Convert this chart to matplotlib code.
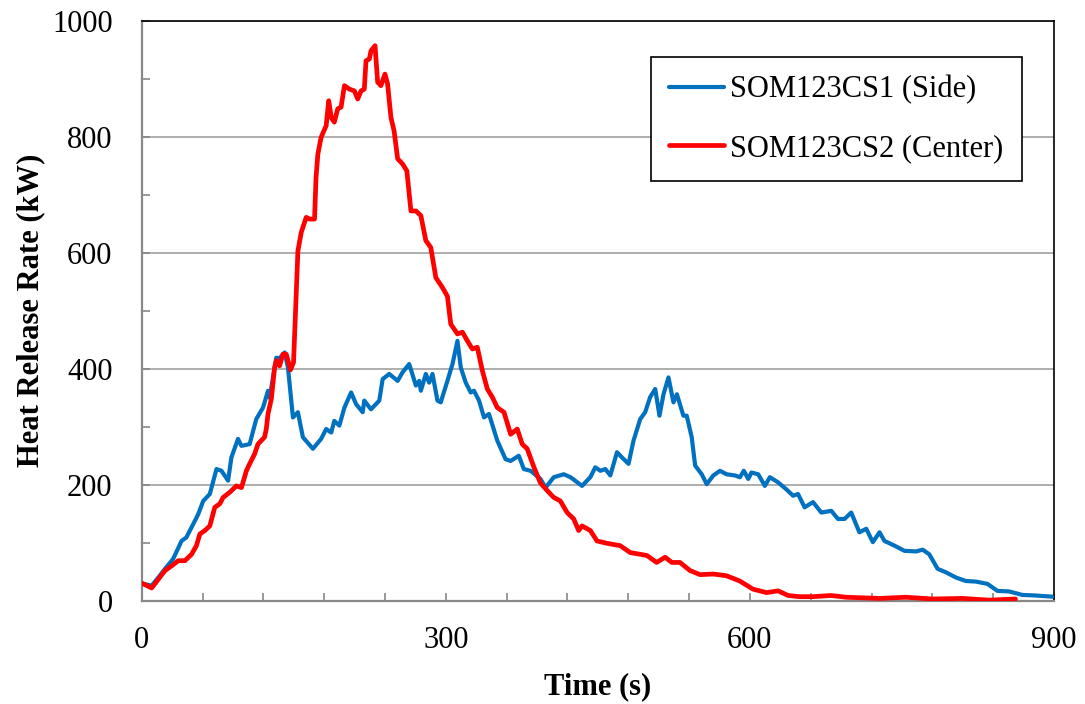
import numpy as np
import matplotlib
matplotlib.use("Agg")
import matplotlib.pyplot as plt
from matplotlib.ticker import MultipleLocator

# Side burner test (blue)
side_time = [0, 1.7, 9.8, 16.4, 23, 31, 39.3, 44, 50.8, 55.7, 60.7, 67.2, 73.8, 78.7, 85.2,
             88.5, 95, 98.4, 106.5, 113, 119.7, 124.6, 126.2, 132.8, 136, 141, 144.3, 149.2,
             154.1, 159, 168.9, 177, 182, 187, 190, 195, 200, 206.6, 211.5, 218, 219.6, 226.2,
             234.4, 237.7, 244.2, 252.5, 257.4, 263.9, 270.5, 273.8, 275.4, 280.3, 283.6, 286.9,
             291.8, 295, 301.6, 306.6, 311.5, 314.8, 319.7, 324.6, 327.8, 332.8, 337.7, 342.6,
             350.8, 359, 364, 372, 377, 383.6, 393.4, 398.4, 406.6, 416.4, 423, 434.4, 442.6,
             447.5, 452.5, 457.4, 462.3, 468.9, 473.8, 480.3, 485.2, 491.8, 496.7, 501.6, 506.6,
             510.8, 514.8, 519.7, 524.6, 528, 534.4, 537.7, 542.6, 546, 552.5, 557.4, 564, 570.5,
             577, 585.2, 590.2, 594, 598.4, 601.6, 608.2, 614.8, 619.7, 627.9, 636, 642.6, 647.5,
             654, 662.3, 670.5, 680.3, 686.9, 693.4, 700, 708, 714.8, 721.3, 727.9, 732.8, 742.6,
             752.5, 764, 770.5, 777, 785.2, 793.4, 803.3, 813, 823, 834.4, 844.2, 855.7, 868.8,
             882, 898.4]
side_hrr = [30, 29, 26, 40, 55, 72, 103, 109, 132, 149, 172, 184, 227, 224, 207,
            247, 279, 267, 270, 313, 333, 362, 350, 419, 418, 428, 402, 316,
            325, 282, 262, 279, 296, 290, 310, 302, 333, 359, 339, 325, 345, 330,
            345, 382, 391, 379, 394, 408, 371, 379, 362, 391, 376, 391,
            345, 342, 379, 408, 448, 402, 376, 359, 362, 345, 316, 322,
            276, 244, 241, 250, 227, 224, 210, 195, 213, 218, 213, 198, 213,
            230, 224, 227, 216, 256, 247, 236, 276, 313, 325, 351, 365,
            319, 356, 385, 342, 356, 319, 319, 282, 233, 218, 201, 216, 224,
            218, 216, 213, 224, 210, 221, 218, 198, 213, 204, 192, 181, 184,
            161, 170, 152, 155, 141, 141, 152, 118, 124, 101, 118, 103, 95,
            86, 85, 88, 80, 55, 49, 40, 34, 33, 29, 17, 16, 10,
            9, 7]

# Center burner test (red)
center_time = [0, 1.7, 9.8, 16.4, 23, 29.5, 36, 42.6, 49.2, 54, 57.4, 62.3, 67.2, 72.1, 77,
               80.3, 86.9, 93.4, 98.4, 103.3, 106.5, 111.4, 114.7, 121.2, 122.9, 124.6, 127.9,
               131.1, 132.8, 136, 139.4, 142.6, 146.8, 149.8, 154.1, 157.4, 162.3, 165.6, 170.5,
               172, 173.8, 177, 182, 184.5, 187, 190, 193.4, 196.7, 200, 204.9, 209.8, 213.1,
               216.4, 219.6, 221.3, 224.6, 226.2, 230.2, 232.8, 236, 240, 242.6, 245.9, 249,
               252.5, 257.4, 261.6, 265.6, 270.5, 275.4, 280.3, 285.2, 290.2, 296.7, 301.6,
               304.9, 311.5, 316.4, 321.3, 326.2, 331.1, 336, 341, 345.9, 350.8, 357.4, 364,
               370.5, 375.4, 380.3, 387, 393.4, 400, 406.6, 413, 419.7, 426.2, 431.1, 434.4,
               442.6, 449.2, 459, 472, 482, 498.4, 508, 516.4, 523, 531, 541, 550.8, 564, 577,
               590, 603, 616.4, 627.9, 637.7, 649, 662, 680, 695, 728, 754, 780, 810, 836, 862]
center_hrr = [30, 29, 22, 37, 52, 60, 69, 69, 80, 95, 115, 121, 129, 161, 167,
              178, 187, 198, 195, 224, 236, 253, 270, 282, 296, 322, 348,
              402, 414, 405, 425, 425, 398, 411, 603, 635, 661, 658, 658,
              730, 770, 799, 819, 862, 833, 825, 848, 851, 888, 882, 879, 865,
              879, 882, 931, 934, 948, 957, 894, 888, 908, 891, 833, 810,
              762, 753, 741, 672, 672, 664, 621, 609, 557, 540, 525,
              477, 460, 463, 448, 434, 437, 397, 365, 351, 333, 325, 287,
              296, 270, 262, 230, 203, 190, 178, 172, 152, 141, 121, 129,
              121, 103, 99, 95, 83, 78, 66, 75, 66, 66, 52, 45, 46, 43,
              34, 20, 14, 17, 9, 7, 7, 9, 6, 4, 6, 3, 4, 1, 3]

series_labels = ["SOM123CS1 (Side)", "SOM123CS2 (Center)"]
x_ticks = [0, 300, 600, 900]
y_ticks = [0, 200, 400, 600, 800, 1000]

plt.rcParams['font.family'] = ['Liberation Serif', 'DejaVu Serif']
plt.rcParams['font.size'] = 22

fig = plt.figure(figsize=(10.85, 7.04), dpi=100)
ax = fig.add_axes([0.1306, 0.1467, 0.9714 - 0.1306, 0.9706 - 0.1467])

ax.plot(side_time, side_hrr, color='#0070C0', linewidth=3.0, label=series_labels[0],
        solid_joinstyle='round', solid_capstyle='round', zorder=3)
ax.plot(center_time, center_hrr, color='#FF0000', linewidth=3.4, label=series_labels[1],
        solid_joinstyle='round', solid_capstyle='round', zorder=4)

ax.set_xlim(0, 900)
ax.set_ylim(0, 1000)
ax.set_xticks(x_ticks)
ax.set_yticks(y_ticks)
ax.xaxis.set_minor_locator(MultipleLocator(60))
ax.yaxis.set_minor_locator(MultipleLocator(100))

# excel-ish axes: gray left/bottom, black frame top/right, inward ticks
ax.grid(axis='y', which='major', color='#999999', linewidth=1.1, zorder=1)
ax.set_axisbelow(True)
for side in ['left', 'bottom']:
    ax.spines[side].set_color('#888888')
    ax.spines[side].set_linewidth(1.6)
for side in ['top', 'right']:
    ax.spines[side].set_color('black')
    ax.spines[side].set_linewidth(1.2)
ax.tick_params(which='both', direction='in', color='#888888', width=1.2, length=6,
               top=False, right=False)
ax.tick_params(axis='y', which='both', pad=21)
ax.tick_params(axis='x', which='both', pad=18)

ax.set_xlabel('Time (s)', fontweight='bold')
ax.set_ylabel('Heat Release Rate (kW)', fontweight='bold')
ax.xaxis.set_label_coords(0.5, -0.123)
ax.yaxis.set_label_coords(-0.106, 0.5)

leg = ax.legend(loc='upper right', bbox_to_anchor=(0.9417, 0.9195),
                bbox_transform=fig.transFigure, borderaxespad=0, fancybox=False,
                edgecolor='black', framealpha=1, handlelength=1.8, handletextpad=0.2,
                labelspacing=0.97, borderpad=0.6)
leg.get_frame().set_linewidth(1.2)

fig.savefig('out.png', dpi=100)
